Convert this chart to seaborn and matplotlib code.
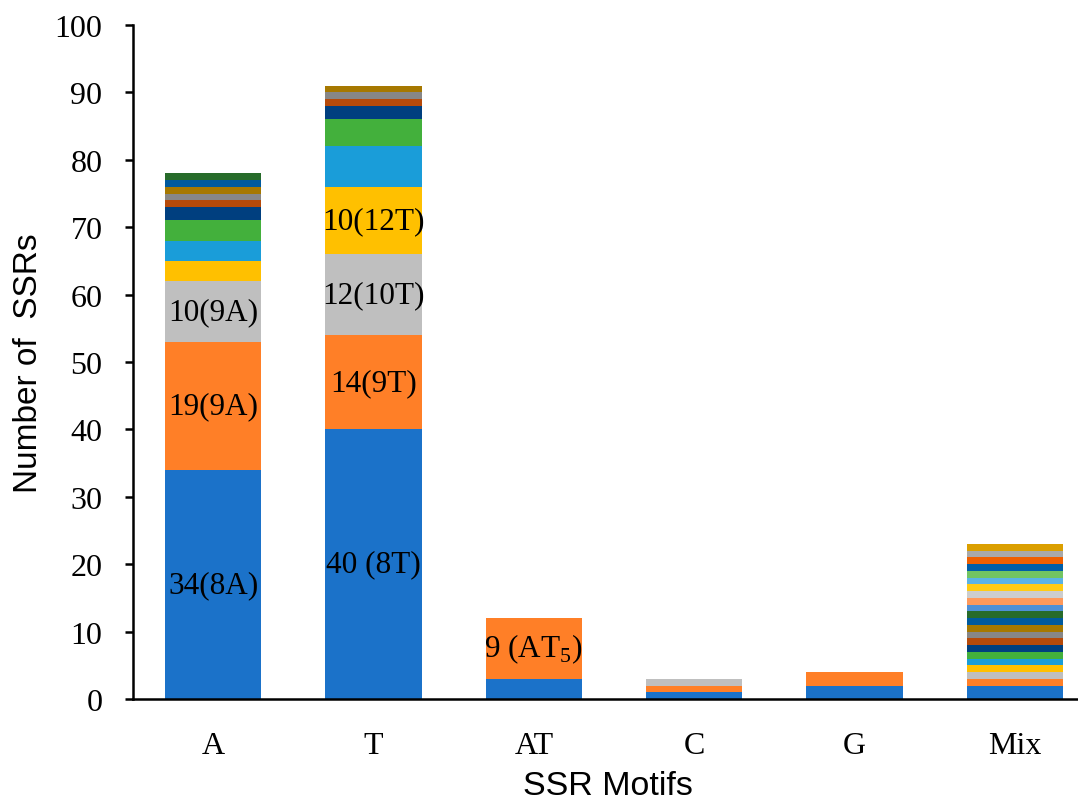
import numpy as np
import pandas as pd
import matplotlib
matplotlib.use("Agg")
import matplotlib.pyplot as plt
import seaborn as sns

# categories and stacked segment counts (bottom -> top)
motifs = ["A", "T", "AT", "C", "G", "Mix"]
seg_A = [34, 19, 9, 3, 3, 3, 2, 1, 1, 1, 1, 1]
seg_T = [40, 14, 12, 10, 6, 4, 2, 1, 1, 1]
seg_AT = [3, 9]
seg_C = [1, 1, 1]
seg_G = [2, 2]
seg_Mix = [2] + [1] * 21

# segment colours (series order)
colors = ["#1B72C9", "#FF7F27", "#BFBFBF", "#FFC000", "#1A9DD9", "#43B03C",
          "#003F7F", "#B64A0A", "#878787", "#A67800", "#005A9E", "#276B2A",
          "#4F90D6", "#FF995A", "#CDCDCD", "#FFCB14", "#5BB3E6", "#72C463",
          "#005EA8", "#EF5F00", "#A9A9A9", "#DB9F00"]

# text labels inside bars: (motif, segment index, text)
lab_x = ["A", "A", "A", "T", "T", "T", "T", "AT"]
lab_seg = [0, 1, 2, 0, 1, 2, 3, 1]
lab_txt = ["34(8A)", "19(9A)", "10(9A)", "40 (8T)", "14(9T)", "12(10T)",
           "10(12T)", r"9 (AT$_\mathrm{5}$)"]

sns.set_theme(style="ticks")
plt.rcParams["font.family"] = ["Liberation Serif", "DejaVu Serif"]
plt.rcParams["mathtext.fontset"] = "custom"
plt.rcParams["mathtext.rm"] = "Liberation Serif"

segs = [seg_A, seg_T, seg_AT, seg_C, seg_G, seg_Mix]
n = max(len(s) for s in segs)
mat = np.zeros((len(motifs), n))
for i, s in enumerate(segs):
    mat[i, :len(s)] = s
cum = np.cumsum(mat, axis=1)

fig = plt.figure(figsize=(10.78, 8.03), dpi=100)
ax = fig.add_axes([133 / 1078, 1 - 700 / 803, (1095 - 133) / 1078, 674 / 803])

# draw cumulative layers from the top down so each shows as a segment
for k in range(n - 1, -1, -1):
    df = pd.DataFrame({"motif": motifs, "val": cum[:, k]})
    sns.barplot(data=df, x="motif", y="val", color=colors[k], width=0.6,
                saturation=1, ax=ax, linewidth=0)

pos = {m: i for i, m in enumerate(motifs)}
for m, k, t in zip(lab_x, lab_seg, lab_txt):
    i = pos[m]
    yc = cum[i, k] - mat[i, k] / 2
    ax.text(i, yc, t, ha="center", va="center", fontsize=22.5, color="black")

ax.set_xlim(-0.5, 5.5)
ax.set_ylim(0, 100)
ax.set_yticks(range(0, 101, 10))
sns.despine(ax=ax)
for sp in ["left", "bottom"]:
    ax.spines[sp].set_linewidth(1.8)
    ax.spines[sp].set_color("black")
ax.tick_params(axis="y", direction="out", length=6, width=1.8, pad=16,
               labelsize=23, colors="black")
ax.tick_params(axis="x", length=0, pad=23, labelsize=23, colors="black")

ax.set_xlabel("SSR Motifs", fontsize=24.5, family=["Liberation Sans"], color="black")
ax.set_ylabel("Number of  SSRs", fontsize=24, family=["Liberation Sans"], color="black")
ax.xaxis.set_label_coords(0.494, -0.105)
ax.yaxis.set_label_coords(-0.093, 0.5)

fig.savefig("out.png", dpi=100)
